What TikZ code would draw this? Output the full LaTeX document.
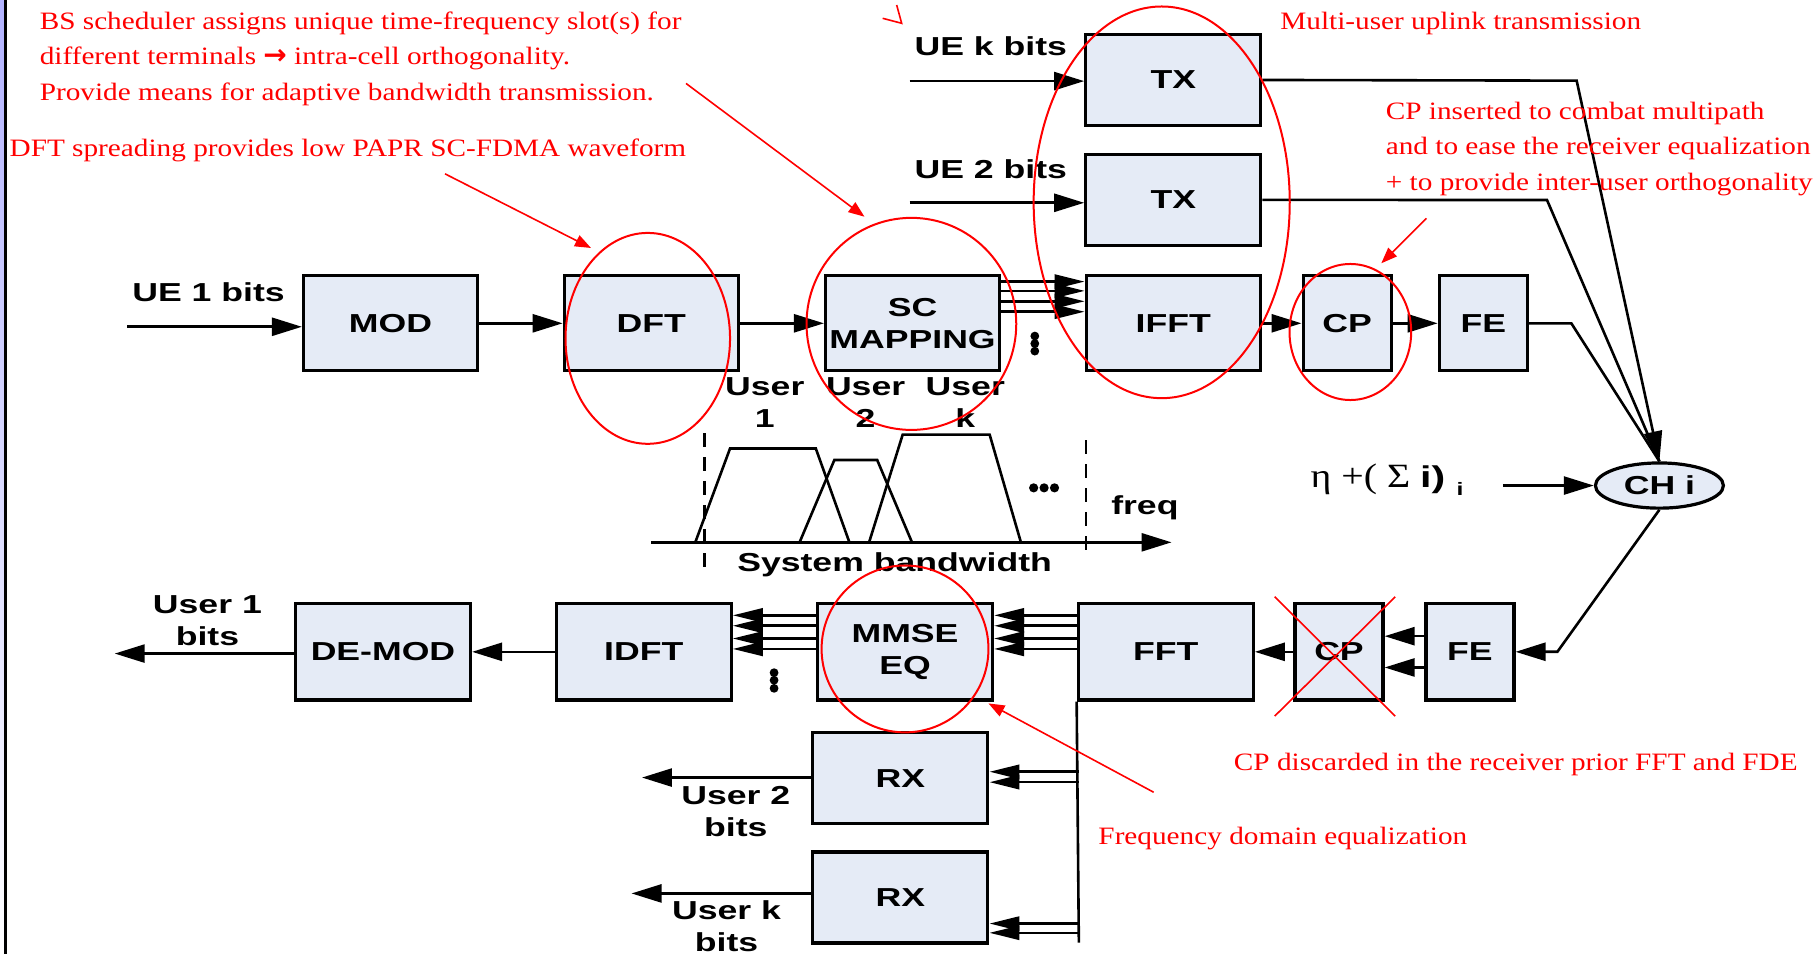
\documentclass[tikz,border=0pt]{standalone}
\usepackage{fontspec}
\setmainfont{Liberation Serif}[FakeStretch=1.17]
\newfontfamily\blkfont{Liberation Sans}[FakeStretch=1.37]
\newfontfamily\arrfont{DejaVu Sans}
\usetikzlibrary{arrows.meta,shapes.geometric}
\definecolor{boxblue}{RGB}{229,235,246}
\definecolor{annored}{RGB}{255,0,0}
\newcommand{\lbl}{\blkfont\bfseries\fontsize{13}{16}\selectfont}
\newcommand{\anno}{\fontsize{12.5}{17.7}\selectfont}

\begin{document}
\begin{tikzpicture}[x=0.5794pt, y=-0.5794pt,
  blk/.style={draw, line width=1.6pt, fill=boxblue, inner sep=0pt, align=center, font=\lbl},
  wideblk/.style={blk, minimum width=87pt, minimum height=47.5pt},
  smallblk/.style={blk, minimum width=44pt, minimum height=47.5pt},
  txblk/.style={blk, minimum width=87.5pt, minimum height=45.5pt},
  rxwide/.style={blk, minimum width=87.5pt, minimum height=48.1pt},
  rxsmall/.style={blk, minimum width=44pt, minimum height=48.1pt},
  txt/.style={font=\lbl, align=center, inner sep=0pt},
  conn/.style={line width=1.3pt},
  arr/.style={conn, -{Triangle[length=15pt,width=9pt]}},
  busarr/.style={conn, -{Triangle[length=15pt,width=7pt]}},
  redline/.style={annored, line width=0.8pt},
  redarr/.style={redline, -{Triangle[length=8pt,width=6pt]}},
  ring/.style={annored, line width=1pt},
  note/.style={annored, font=\anno, align=left, inner sep=0pt, anchor=base west}]
  \useasboundingbox (0,0) rectangle (1568,823);
  \shade[top color=blue!30, bottom color=white] (0,0) rectangle (3.5,823);
  \draw[line width=1.3pt] (4.6,0) -- (4.6,823);

  % transmitter chain
  \node[wideblk] (mod) at (337,279) {MOD};
  \node[wideblk] (dft) at (562,279) {DFT};
  \node[wideblk] (sc) at (787.5,279) {SC\\MAPPING};
  \node[wideblk] (ifft) at (1012.5,279) {IFFT};
  \node[smallblk] (cptx) at (1162.5,279) {CP};
  \node[smallblk] (fetx) at (1280,279) {FE};
  \node[txblk] (txk) at (1012.5,69) {TX};
  \node[txblk] (tx2) at (1012.5,172.5) {TX};

  \node[txt] (ue1) at (180,252) {UE 1 bits};
  \node[txt] (uek) at (855,40) {UE k bits};
  \node[txt] (ue2) at (855,146) {UE 2 bits};
  \coordinate (ue1in) at (110,282);
  \coordinate (uekin) at (785,70);
  \coordinate (ue2in) at (785,175);
  \draw[arr] (ue1in) -- (ue1in -| mod.west);
  \draw[arr] (uekin) -- (uekin -| txk.west);
  \draw[arr] (ue2in) -- (ue2in -| tx2.west);

  \draw[arr] (mod) -- (dft);
  \draw[arr] (dft) -- (sc);
  \foreach \y in {243,251,260,269}
    \draw[busarr] (sc.east |- 0,\y) -- (ifft.west |- 0,\y);
  \foreach \y in {290,296.5,303}
    \fill (893,\y) circle (2.2pt);
  \draw[arr] (ifft) -- (cptx);
  \draw[arr] (cptx) -- (fetx);

  % channel
  \node[draw, ellipse, line width=1.6pt, fill=boxblue, minimum width=64pt,
        minimum height=22.6pt, inner sep=0pt, font=\lbl] (chi) at (1432,419) {CH i};
  \draw[conn] (fetx.east) -- (1356,279) -- (chi.north);
  \draw[conn] (tx2.east) -- (1335,172.6) -- (chi.north);
  \draw[arr] (txk.east) -- (1360.6,69.6) -- (chi.north);
  \node[inner sep=0pt] (noise) at (1197,414)
    {{\fontsize{17}{17}\selectfont η +( Σ }{\blkfont\bfseries\fontsize{15}{15}\selectfont i) }{\blkfont\bfseries\fontsize{9}{9}\selectfont\raisebox{-4pt}{i}}};
  \coordinate (noisein) at (1297,419);
  \draw[arr] (noisein) -- (chi.west);

  % receiver chain
  \node[rxsmall] (ferx) at (1268.5,562.5) {FE};
  \node[rxsmall] (cprx) at (1155.5,562.5) {CP};
  \node[rxwide] (fft) at (1006,562.5) {FFT};
  \node[rxwide] (mmse) at (781,562.5) {MMSE\\EQ};
  \node[rxwide] (idft) at (555.5,562.5) {IDFT};
  \node[rxwide] (demod) at (330.5,562.5) {DE-MOD};
  \node[txblk] (rx2) at (777,671.5) {RX};
  \node[txblk] (rxk) at (777,774.5) {RX};

  \draw[arr] (chi.south) -- (1344,562.4) -- (ferx.east);
  \foreach \y in {549,576}
    \draw[arr] (ferx.west |- 0,\y) -- (cprx.east |- 0,\y);
  \draw[arr] (cprx) -- (fft);
  \coordinate (busend) at (931,813.5);
  \draw[conn] (fft.south west) -- (busend);
  \foreach \y in {531,540,551,560}{
    \draw[busarr] (fft.west |- 0,\y) -- (mmse.east |- 0,\y);
    \draw[busarr] (mmse.west |- 0,\y) -- (idft.east |- 0,\y);
  }
  \foreach \y in {580.5,587,594}
    \fill (668,\y) circle (2.2pt);
  \draw[arr] (idft) -- (demod);
  \foreach \y in {666,675}
    \draw[busarr] (busend |- 0,\y) -- (rx2.east |- 0,\y);
  \foreach \y in {797,805}
    \draw[busarr] (busend |- 0,\y) -- (rxk.east |- 0,\y);
  \coordinate (out1) at (99,564);
  \coordinate (out2) at (554,671);
  \coordinate (outk) at (545,771);
  \draw[arr] (demod.west |- out1) -- (out1);
  \draw[arr] (rx2.west |- out2) -- (out2);
  \draw[arr] (rxk.west |- outk) -- (outk);
  \node[txt] (u1bits) at (179,536) {User 1\\bits};
  \node[txt] (u2bits) at (635,700) {User 2\\bits};
  \node[txt] (ukbits) at (627,799.5) {User k\\bits};

  % spectrum
  \coordinate (fstart) at (562,468);
  \coordinate (fend) at (1011,468);
  \draw[arr] (fstart) -- (fend);
  \foreach \a/\b/\c/\d/\t in {600/630/704/733/387, 690/720/757/787/397, 750/779/854/881/375}
    \draw[conn] (\a,468) -- (\b,\t) -- (\c,\t) -- (\d,468);
  \draw[conn, dash pattern=on 7pt off 5pt] (608,374) -- (608,495);
  \draw[conn, dash pattern=on 7pt off 5pt] (937,380) -- (937,481);
  \foreach \x in {892,901,910}
    \fill (\x,421) circle (2.3pt);
  \node[txt] (usr1) at (660,347) {User\\1};
  \node[txt] (usr2) at (747,347) {User\\2};
  \node[txt] (usrk) at (833,347) {User\\k};
  \node[txt] (freq) at (988,438) {freq};
  \node[txt] (sysbw) at (772,487) {System bandwidth};

  % annotations
  \draw[ring] (559,292) ellipse [x radius=71, y radius=91];
  \draw[ring] (786.5,279.5) ellipse [x radius=90.5, y radius=91.5];
  \draw[ring] (1002.5,174.6) ellipse [x radius=110.5, y radius=169];
  \draw[ring] (1165.3,286.5) ellipse [x radius=52.5, y radius=58.7];
  \draw[ring] (781,560) ellipse [x radius=72, y radius=72];
  \draw[redline] (1100,515) -- (1204,618);
  \draw[redline] (1204,515) -- (1100,618);

  \node[note] (sched) at (34,86.3) {BS scheduler assigns unique time-frequency slot(s) for\\different terminals {\arrfont\bfseries\fontsize{14}{14}\selectfont →} intra-cell orthogonality.\\Provide means for adaptive bandwidth transmission.};
  \node[note] (spread) at (8,135.2) {DFT spreading provides low PAPR SC-FDMA waveform};
  \node[note] (multi) at (1104.6,25.3) {Multi-user uplink transmission};
  \node[note] (cpins) at (1195.6,164) {CP inserted to combat multipath\\and to ease the receiver equalization\\+ to provide inter-user orthogonality};
  \node[note] (cpdis) at (1064.5,665) {CP discarded in the receiver prior FFT and FDE};
  \node[note] (fde) at (947.6,729) {Frequency domain equalization};

  \draw[redarr] (384,150) -- (510,214);
  \draw[redarr] (592,72) -- (746,187);
  \draw[redarr] (1231,188.4) -- (1192,227.2);
  \draw[redarr] (995.6,683.7) -- (853,607);
  \draw[redline] (773.8,4.3) -- (778.1,20.1) -- (761.7,15.8);
\end{tikzpicture}
\end{document}
